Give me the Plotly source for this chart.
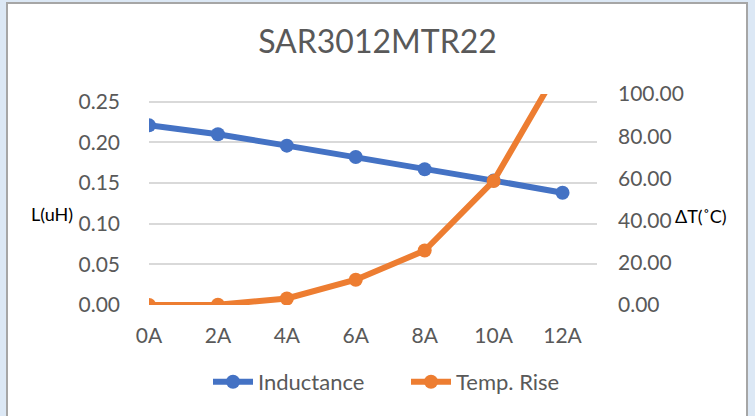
import plotly.graph_objects as go

# Data
current_a = [0, 2, 4, 6, 8, 10, 12]
x_labels = ["0A", "2A", "4A", "6A", "8A", "10A", "12A"]
inductance_uh = [0.221, 0.210, 0.196, 0.182, 0.167, 0.153, 0.138]
temp_rise_c = [0.0, 0.1, 3.1, 12.0, 25.8, 58.8, 115.0]

left_ticks = [0.00, 0.05, 0.10, 0.15, 0.20, 0.25]
left_ticktext = ["0.00", "0.05", "0.10", "0.15", "0.20", "0.25"]
right_ticks = [0, 20, 40, 60, 80, 100]
right_ticktext = ["0.00", "20.00", "40.00", "60.00", "80.00", "100.00"]

BLUE = "#4472C4"
ORANGE = "#ED7D31"
GRAY_TXT = "#595959"
FONT = "Lato"
BG = "#dce8f5"

W, H = 755, 416
L, R, T, B = 149, 158, 94, 111
pw, ph = W - L - R, H - T - B

def px_x(p):
    return (p - L) / pw

def px_y(p):
    return (H - B - p) / ph

fig = go.Figure()
fig.add_trace(go.Scatter(
    x=current_a, y=inductance_uh, name="Inductance", mode="lines+markers",
    line=dict(color=BLUE, width=6), marker=dict(color=BLUE, size=14),
    yaxis="y"))
fig.add_trace(go.Scatter(
    x=current_a, y=temp_rise_c, name="Temp. Rise", mode="lines+markers",
    line=dict(color=ORANGE, width=6), marker=dict(color=ORANGE, size=14),
    yaxis="y2"))

# outer frame (screenshot border)
fig.add_shape(type="rect", xref="paper", yref="paper",
              x0=px_x(7), x1=px_x(747), y0=px_y(430), y1=px_y(3),
              line=dict(color="#a6a6a6", width=2), fillcolor="white", layer="below")

fig.add_annotation(text="L(uH)", xref="paper", yref="paper",
                   x=px_x(52), y=px_y(214), xanchor="center", yanchor="middle",
                   showarrow=False,
                   font=dict(family=FONT, size=18, color="black"))
fig.add_annotation(text="ΔT(˚C)", xref="paper", yref="paper",
                   x=px_x(701), y=px_y(216), xanchor="center", yanchor="middle",
                   showarrow=False,
                   font=dict(family=FONT, size=18, color="black"))

fig.update_layout(
    width=W, height=H,
    margin=dict(l=L, r=R, t=T, b=B),
    paper_bgcolor=BG,
    plot_bgcolor="rgba(0,0,0,0)",
    title=dict(text="SAR3012MTR22", x=0.5, xanchor="center",
               y=1 - 42 / H, yanchor="middle", yref="container",
               font=dict(family=FONT, size=32, color=GRAY_TXT)),
    font=dict(family=FONT, size=21, color=GRAY_TXT),
    xaxis=dict(range=[0, 13], tickvals=current_a, ticktext=x_labels,
               showgrid=False, zeroline=False, showline=False,
               ticks="", ticklabelstandoff=16,
               tickfont=dict(family=FONT, size=21, color=GRAY_TXT)),
    yaxis=dict(range=[0, (H - B - T) / 813.0], tickvals=left_ticks,
               ticktext=left_ticktext, showgrid=True, gridcolor="#d9d9d9",
               gridwidth=1.5, zeroline=False, showline=False, ticks="",
               ticklabelstandoff=28,
               tickfont=dict(family=FONT, size=21, color=GRAY_TXT)),
    yaxis2=dict(range=[0, 100], tickvals=right_ticks, ticktext=right_ticktext,
                overlaying="y", side="right", showgrid=False, zeroline=False,
                showline=False, ticks="", ticklabelstandoff=20,
                tickfont=dict(family=FONT, size=21, color=GRAY_TXT)),
    showlegend=True,
    legend=dict(orientation="h", x=px_x(406), xanchor="center",
                y=px_y(382), yanchor="middle",
                font=dict(family=FONT, size=22, color=GRAY_TXT),
                bgcolor="rgba(0,0,0,0)", itemwidth=40, tracegroupgap=0,
                entrywidth=143, entrywidthmode="pixels"),
)

fig.write_html(
    "out.html",
    config={"displayModeBar": False},
    post_script="document.body.style.margin='0';document.body.style.background='" + BG + "';",
)
